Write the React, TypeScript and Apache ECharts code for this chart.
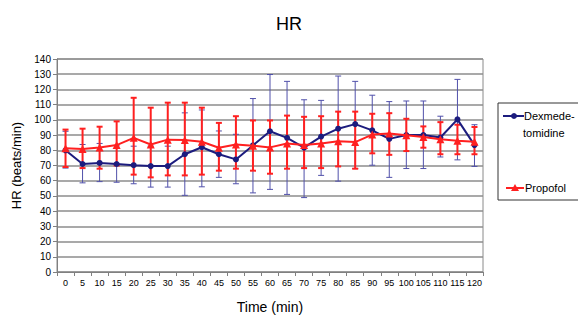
import React, { useEffect, useRef } from "react";
import * as echarts from "echarts";

const times = ["0","5","10","15","20","25","30","35","40","45","50","55","60","65","70","75","80","85","90","95","100","105","110","115","120"];

const dexMean = [80, 71, 71.7, 71, 70.2, 69.6, 69.6, 77.4, 82, 77.4, 74, 83.2, 92.5, 88.2, 81.7, 89, 94.2, 97.2, 93.1, 87.5, 90, 90, 88.4, 100.3, 83.4];
const dexHigh = [92.5, 83.8, 84.5, 83, 82.7, 82.7, 82.7, 104.6, 106.5, 92.7, 90.5, 114, 129.8, 125.3, 113.2, 112.8, 128.8, 125.3, 116.2, 112, 112.4, 112.4, 102.4, 126.6, 96.8];
const dexLow = [68.3, 58.6, 59.4, 59, 58, 55.8, 55.8, 50.4, 56, 62.2, 58, 52, 54.3, 51, 48.9, 63.5, 59.7, 68, 70.2, 62.2, 68, 68, 75.6, 73.7, 69.4];

const propMean = [81.3, 80.8, 81.9, 83.4, 88.2, 83.8, 87, 86.7, 85.6, 81.7, 83.8, 83, 81.9, 84.5, 83.4, 84.5, 86, 85.4, 90.3, 91, 89.9, 88.8, 87.3, 86.2, 85.6];
const propHigh = [93.6, 94.2, 95.5, 99, 114.5, 108, 111.3, 111.3, 108, 98, 102.4, 99.6, 99.6, 102.8, 102, 102.4, 105.4, 105.4, 104, 104.4, 100.7, 95.7, 98.5, 96.8, 95.3];
const propLow = [69, 68.3, 67.9, 70, 64, 62.2, 63.5, 63.5, 64, 66.6, 67.9, 66.6, 64.6, 67.9, 68.3, 68.3, 69.4, 67.9, 78, 77, 79.5, 81.7, 77.4, 77.4, 77.4];

const DEX = "#1c1c7e";
const DEX_ERR = "#5050aa";
const PROP = "#ff2020";
const FONT = "Liberation Sans, Arial, sans-serif";

function errorSeries(name: string, low: number[], high: number[], color: string, width: number) {
  return {
    type: "custom",
    name,
    silent: true,
    data: low.map((l, i) => [i, l, high[i]]),
    renderItem: (params: any, api: any) => {
      const x = api.value(0);
      const lo = api.coord([x, api.value(1)]);
      const hi = api.coord([x, api.value(2)]);
      const cap = 3;
      const style = { stroke: color, lineWidth: width };
      return {
        type: "group",
        children: [
          { type: "line", shape: { x1: lo[0], y1: lo[1], x2: hi[0], y2: hi[1] }, style },
          { type: "line", shape: { x1: hi[0] - cap, y1: hi[1], x2: hi[0] + cap, y2: hi[1] }, style },
          { type: "line", shape: { x1: lo[0] - cap, y1: lo[1], x2: lo[0] + cap, y2: lo[1] }, style },
        ],
      };
    },
    z: 2,
  };
}

export default function App() {
  const ref = useRef<HTMLDivElement>(null);
  useEffect(() => {
    if (!ref.current) return;
    const chart = echarts.init(ref.current, null, { renderer: "svg" });
    chart.setOption({
      animation: false,
      backgroundColor: "#ffffff",
      title: {
        text: "HR",
        left: "center",
        top: 10,
        textStyle: { fontFamily: FONT, fontSize: 18, fontWeight: "normal", color: "#000" },
      },
      grid: {
        left: 57,
        right: 95,
        top: 59,
        bottom: 50,
        show: true,
        borderColor: "#8a8a8a",
        borderWidth: 1,
        backgroundColor: "transparent",
      },
      xAxis: {
        type: "category",
        data: times,
        boundaryGap: true,
        name: "Time (min)",
        nameLocation: "middle",
        nameGap: 28,
        nameTextStyle: { fontFamily: FONT, fontSize: 14, color: "#000" },
        axisLine: { lineStyle: { color: "#808080", width: 1 } },
        axisTick: { show: true, alignWithLabel: false, interval: 0, length: 4, lineStyle: { color: "#808080" } },
        axisLabel: { interval: 0, fontFamily: FONT, fontSize: 9, color: "#000", margin: 6 },
        splitLine: { show: false },
      },
      yAxis: {
        type: "value",
        min: 0,
        max: 140,
        interval: 10,
        name: "HR (beats/min)",
        nameLocation: "middle",
        nameGap: 32,
        nameRotate: 90,
        nameTextStyle: { fontFamily: FONT, fontSize: 13, color: "#000" },
        axisLine: { show: true, lineStyle: { color: "#808080", width: 1 } },
        axisTick: { show: true, length: 4, lineStyle: { color: "#808080" } },
        axisLabel: { fontFamily: FONT, fontSize: 10, color: "#000", margin: 6 },
        splitLine: { show: true, lineStyle: { color: "#8c8c8c", width: 1.5 } },
      },
      series: [
        errorSeries("Dex SD", dexLow, dexHigh, DEX_ERR, 1),
        {
          type: "line",
          name: "Dexmedetomidine",
          data: dexMean,
          symbol: "circle",
          symbolSize: 6,
          lineStyle: { color: DEX, width: 2 },
          itemStyle: { color: DEX },
          z: 3,
        },
        errorSeries("Propofol SD", propLow, propHigh, PROP, 2),
        {
          type: "line",
          name: "Propofol",
          data: propMean,
          symbol: "triangle",
          symbolSize: 8,
          lineStyle: { color: PROP, width: 2 },
          itemStyle: { color: PROP },
          z: 5,
        },
      ],
      graphic: [
        {
          type: "rect",
          shape: { x: 498, y: 103, width: 100, height: 97 },
          style: { fill: "#fff", stroke: "#333", lineWidth: 1 },
        },
        { type: "line", shape: { x1: 503, y1: 116, x2: 524, y2: 116 }, style: { stroke: DEX, lineWidth: 2 } },
        { type: "circle", shape: { cx: 514, cy: 116, r: 3 }, style: { fill: DEX } },
        {
          type: "text",
          x: 524,
          y: 116,
          style: { text: "Dexmede-", fontFamily: FONT, fontSize: 11, fill: "#000", verticalAlign: "middle" },
        },
        {
          type: "text",
          x: 523,
          y: 133,
          style: { text: "tomidine", fontFamily: FONT, fontSize: 11, fill: "#000", verticalAlign: "middle" },
        },
        { type: "line", shape: { x1: 506, y1: 188, x2: 524, y2: 188 }, style: { stroke: PROP, lineWidth: 2 } },
        { type: "polygon", shape: { points: [[515, 184], [519, 191], [511, 191]] }, style: { fill: PROP } },
        {
          type: "text",
          x: 525,
          y: 188,
          style: { text: "Propofol", fontFamily: FONT, fontSize: 11, fill: "#000", verticalAlign: "middle" },
        },
      ],
    });
    return () => chart.dispose();
  }, []);
  return <div ref={ref} style={{ position: "absolute", left: 0, top: 0, width: 578, height: 322 }} />;
}
